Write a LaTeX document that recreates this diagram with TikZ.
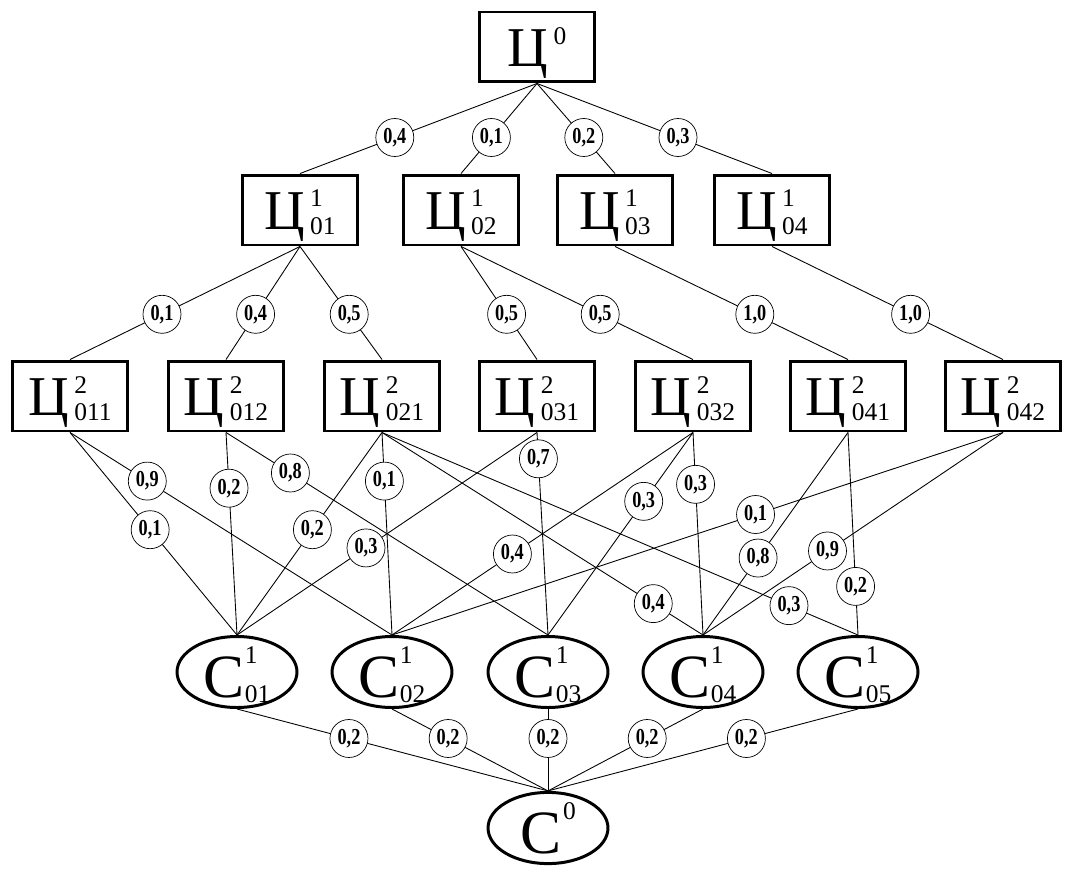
\documentclass[tikz,border=0pt]{standalone}
\usepackage{fontspec}
\setmainfont{Liberation Serif}
\usepackage{graphicx}
\usetikzlibrary{shapes.geometric}
\newcommand{\subf}{\fontsize{14.5}{14.5}\selectfont}
\newcommand{\nm}[5][13pt]{#2\kern#5\rlap{\raisebox{#1}{\subf #3}}\raisebox{-2.8pt}{\subf #4}}
\newcommand{\wt}[1]{\scalebox{0.8}[1]{#1}}
\begin{document}
\begin{tikzpicture}[x=0.02cm,y=-0.02cm,line width=0.5pt,
    box node/.style={rectangle,draw,line width=1.7pt,minimum width=2.3cm,minimum height=1.4cm,inner sep=0pt,text depth=0pt,font=\fontsize{32}{32}\selectfont},
    set node/.style={ellipse,draw,line width=1.7pt,minimum width=2.4cm,minimum height=1.34cm,inner sep=0pt,text depth=0pt,font=\fontsize{35}{35}\selectfont},
    wgt/.style={circle,draw,fill=white,line width=0.4pt,minimum size=0.76cm,inner sep=0pt,font=\fontsize{13}{13}\selectfont\bfseries}]
    \useasboundingbox (0,0) rectangle (1074,875);

    \node[box node] at (537,47) (z0) {Ц\kern3pt\raisebox{13pt}{\subf 0}};

    \node[box node] at (300,210) (z1a) {\nm{Ц}{1}{01}{3pt}};
    \node[box node] at (461,210) (z1b) {\nm{Ц}{1}{02}{3pt}};
    \node[box node] at (615,210) (z1c) {\nm{Ц}{1}{03}{3pt}};
    \node[box node] at (772,210) (z1d) {\nm{Ц}{1}{04}{3pt}};

    \node[box node] at (70,396) (z2a) {\nm{Ц}{2}{011}{3pt}};
    \node[box node] at (226,396) (z2b) {\nm{Ц}{2}{012}{3pt}};
    \node[box node] at (382,396) (z2c) {\nm{Ц}{2}{021}{3pt}};
    \node[box node] at (537,396) (z2d) {\nm{Ц}{2}{031}{3pt}};
    \node[box node] at (693,396) (z2e) {\nm{Ц}{2}{032}{3pt}};
    \node[box node] at (848,396) (z2f) {\nm{Ц}{2}{041}{3pt}};
    \node[box node] at (1003,396) (z2g) {\nm{Ц}{2}{042}{3pt}};

    \node[set node] at (237,672) (c1a) {\nm[19pt]{С}{1}{01}{0pt}};
    \node[set node] at (392,672) (c1b) {\nm[19pt]{С}{1}{02}{0pt}};
    \node[set node] at (548,672) (c1c) {\nm[19pt]{С}{1}{03}{0pt}};
    \node[set node] at (703,672) (c1d) {\nm[19pt]{С}{1}{04}{0pt}};
    \node[set node] at (858,672) (c1e) {\nm[19pt]{С}{1}{05}{0pt}};

    \node[set node] at (548,828) (c0) {С\kern1pt\raisebox{19pt}{\subf 0}};

    % level 1
    \path[every node/.style={wgt,pos=0.6}]
        (z0.south) edge node {\wt{0,4}} (z1a.north)
        (z0.south) edge node {\wt{0,1}} (z1b.north)
        (z0.south) edge node {\wt{0,2}} (z1c.north)
        (z0.south) edge node {\wt{0,3}} (z1d.north);

    % level 2
    \path[every node/.style={wgt,pos=0.6}]
        (z1a.south) edge node {\wt{0,1}} (z2a.north)
        (z1a.south) edge node {\wt{0,4}} (z2b.north)
        (z1a.south) edge node {\wt{0,5}} (z2c.north)
        (z1b.south) edge node {\wt{0,5}} (z2d.north)
        (z1b.south) edge node {\wt{0,5}} (z2e.north)
        (z1c.south) edge node {\wt{1,0}} (z2f.north)
        (z1d.south) edge node {\wt{1,0}} (z2g.north);

    % level 3
    \path[every node/.style={wgt}]
        (z2a.south) edge node[pos=0.48] {\wt{0,1}} (c1a.north)
        (z2a.south) edge node[pos=0.24] {\wt{0,9}} (c1b.north)
        (z2b.south) edge node[pos=0.275] {\wt{0,2}} (c1a.north)
        (z2b.south) edge node[pos=0.2] {\wt{0,8}} (c1c.north)
        (z2c.south) edge node[pos=0.48] {\wt{0,2}} (c1a.north)
        (z2c.south) edge node[pos=0.24] {\wt{0,1}} (c1b.north)
        (z2c.south) edge node[pos=0.845] {\wt{0,4}} (c1d.north)
        (z2c.south) edge node[pos=0.855] {\wt{0,3}} (c1e.north)
        (z2d.south) edge node[pos=0.57] {\wt{0,3}} (c1a.north)
        (z2d.south) edge node[pos=0.13] {\wt{0,7}} (c1c.north)
        (z2e.south) edge node[pos=0.6] {\wt{0,4}} (c1b.north)
        (z2e.south) edge node[pos=0.34] {\wt{0,3}} (c1c.north)
        (z2e.south) edge node[pos=0.256] {\wt{0,3}} (c1d.north)
        (z2f.south) edge node[pos=0.62] {\wt{0,8}} (c1d.north)
        (z2f.south) edge node[pos=0.76] {\wt{0,2}} (c1e.north)
        (z2g.south) edge node[pos=0.405] {\wt{0,1}} (c1b.north)
        (z2g.south) edge node[pos=0.585] {\wt{0,9}} (c1d.north);

    % to C0
    \path[every node/.style={wgt,pos=0.36}]
        (c1a.south) edge node {\wt{0,2}} (c0.north)
        (c1b.south) edge node {\wt{0,2}} (c0.north)
        (c1c.south) edge node {\wt{0,2}} (c0.north)
        (c1d.south) edge node {\wt{0,2}} (c0.north)
        (c1e.south) edge node {\wt{0,2}} (c0.north);
\end{tikzpicture}
\end{document}
